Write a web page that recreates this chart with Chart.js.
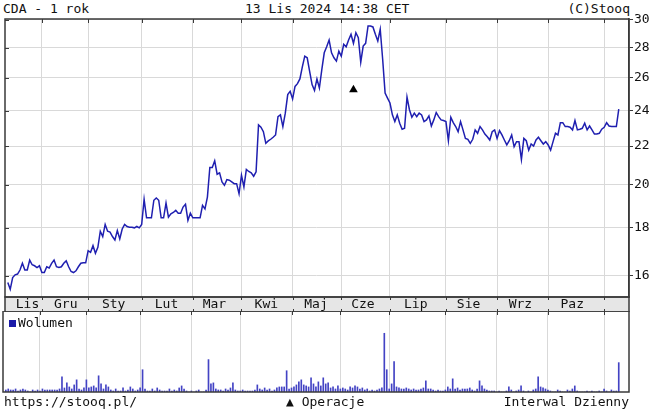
<!DOCTYPE html>
<html lang="pl">
<head>
<meta charset="UTF-8">
<title>CDA - 1 rok</title>
<script src="https://cdn.jsdelivr.net/npm/chart.js"></script>
<style>
  body { margin: 0; background: #fff; }
  #wrap { position: relative; width: 650px; height: 411px; font: 13px "DejaVu Sans Mono", monospace; color: #111; }
  .t { position: absolute; white-space: pre; line-height: 15px; }
  canvas { position: absolute; left: 0; }
</style>
</head>
<body>
<div id="wrap">
  <div class="t" style="left:3px;top:1px">CDA - 1 rok</div>
  <div class="t" style="left:245px;top:1px">13 Lis 2024 14:38 CET</div>
  <div class="t" style="right:20px;top:1px">(C)Stooq</div>
  <canvas id="price" width="650" height="312" style="top:0"></canvas>
  <canvas id="vol" width="650" height="82" style="top:311px"></canvas>
  <div class="t" style="left:9px;top:315px"><span style="display:inline-block;width:7px;height:7px;background:#1a1aa8;margin-right:2px"></span>Wolumen</div>
  <div class="t" style="left:4px;top:394px">https://stooq.pl/</div>
  <div class="t" style="left:286px;top:394px">▲ Operacje</div>
  <div class="t" style="right:21px;top:394px">Interwal Dzienny</div>
</div>
<script>
// kursy zamkniecia, sesja po sesji (13.11.2023 - 13.11.2024)
const closes = [
  15.74, 15.48, 15.93, 16.04, 16.07, 16.23, 16.50, 16.23, 16.23, 16.63,
  16.44, 16.40, 16.33, 16.40, 16.13, 16.13, 16.36, 16.31, 16.50, 16.63,
  16.36, 16.33, 16.36, 16.50, 16.60, 16.36, 16.17, 16.13, 16.20, 16.36,
  16.50, 16.52, 16.52, 17.02, 16.95, 17.23, 16.91, 17.16, 17.85, 17.62,
  18.15, 17.85, 17.81, 17.62, 17.47, 17.88, 17.52, 17.95, 18.15, 18.06,
  18.03, 18.03, 18.00, 18.06, 18.00, 18.15, 19.30, 18.45, 18.45, 18.45,
  19.26, 19.37, 19.26, 18.45, 18.45, 19.13, 18.48, 18.63, 18.69, 18.79,
  18.66, 18.66, 18.94, 19.07, 18.33, 18.66, 18.45, 18.45, 18.45, 18.45,
  19.02, 18.86, 19.41, 20.87, 20.87, 21.22, 20.53, 20.60, 20.15, 19.98,
  20.26, 20.23, 20.15, 20.06, 20.06, 19.57, 20.48, 19.90, 20.77, 20.67,
  20.60, 20.43, 20.65, 23.17, 23.04, 22.79, 22.15, 22.28, 22.37, 22.48,
  22.61, 23.65, 23.75, 23.08, 23.85, 24.96, 25.16, 24.69, 25.47, 25.64,
  25.94, 26.72, 27.43, 27.32, 26.43, 25.58, 25.22, 25.94, 25.37, 26.54,
  27.66, 28.07, 28.54, 27.66, 27.32, 27.10, 27.77, 27.43, 28.24, 28.07,
  28.54, 28.94, 28.31, 29.06, 28.71, 27.03, 28.12, 28.31, 29.54, 29.54,
  29.47, 28.94, 28.47, 29.30, 27.22, 25.06, 24.75, 24.45, 23.75, 23.36,
  23.75, 23.27, 22.93, 22.98, 24.81, 24.05, 23.61, 23.85, 23.65, 23.85,
  23.75, 23.36, 23.46, 23.69, 23.11, 23.46, 23.89, 23.65, 23.46, 23.42,
  23.36, 22.29, 23.61, 23.30, 23.08, 22.79, 23.36, 22.89, 22.42, 22.37,
  22.15, 22.37, 22.89, 22.70, 23.08, 22.89, 22.66, 22.51, 22.33, 22.79,
  22.89, 22.42, 22.85, 22.61, 22.33, 22.06, 22.29, 22.61, 21.97, 22.24,
  22.24, 21.29, 22.42, 22.29, 21.78, 22.11, 22.00, 22.33, 22.48, 22.29,
  22.11, 22.24, 22.06, 21.78, 22.24, 22.70, 22.61, 23.30, 23.30, 23.08,
  23.08, 23.04, 22.89, 23.42, 22.89, 22.93, 22.98, 23.27, 22.89, 23.11,
  22.89, 22.66, 22.66, 22.70, 22.93, 23.04, 23.30, 23.11, 23.08, 23.08,
  23.08, 24.09
];

// wolumen (tys. szt.)
const volumes = [
  2, 3, 2, 2, 3, 1, 2, 3, 2, 1, 0, 2, 1, 2,
  1, 3, 2, 2, 2, 2, 2, 2, 3, 15, 4, 9, 5, 3, 7, 12, 3, 2, 4,
  12, 4, 5, 6, 4, 16, 8, 3, 7, 5, 2, 1, 3, 1, 1, 4, 1, 2, 5, 3, 1, 2,
  4, 22, 3, 1, 1, 3, 1, 4, 2, 1, 1, 1, 3, 1, 2, 1, 4, 6, 3, 1, 0,
  1, 0, 1, 2, 0, 0, 2, 32, 8, 9, 3, 2, 2, 1, 3, 2, 4, 9, 2, 1,
  1, 2, 1, 1, 1, 1, 2, 7, 3, 2, 4, 2, 3, 1, 2, 4, 5, 5, 5, 21, 3,
  4, 5, 7, 10, 12, 7, 6, 5, 14, 8, 5, 10, 6, 14, 8, 9, 4, 5, 3, 6,
  3, 4, 3, 2, 5, 4, 6, 5, 3, 4, 2, 3, 1, 2, 1, 2, 3, 4, 58, 22,
  3, 8, 30, 5, 4, 3, 3, 4, 3, 2, 3, 2, 2, 3, 4, 11, 3, 3, 2, 1, 2, 1, 1,
  2, 5, 3, 13, 3, 4, 2, 3, 3, 3, 4, 2, 1, 3, 11, 6, 3, 2, 1, 1, 1,
  0, 1, 0, 0, 1, 5, 2, 0, 1, 2, 6, 1, 0, 1, 0, 2, 3, 15, 5, 4, 3,
  2, 1, 0, 0, 2, 1, 0, 0, 2, 1, 3, 6, 1, 0, 0, 0, 1, 0, 1, 0, 0, 1, 0,
  3, 1, 0, 2, 1, 1, 29
];

// miesiace: pierwsza sesja miesiaca (linie siatki) i polozenie etykiet
const monthStarts = [14, 33, 55, 76, 96, 117, 137, 157, 180, 201, 222, 245];
const monthNames = ['Lis', 'Gru', 'Sty', 'Lut', 'Mar', 'Kwi', 'Maj', 'Cze', 'Lip', 'Sie', 'Wrz', 'Paz'];
const monthLabelAt = [8.1, 23.8, 43.5, 65.2, 84.9, 106.2, 126.6, 145.9, 167.6, 189.3, 210.6, 231.9];

const priceTicks = [16, 18, 20, 22, 24, 26, 28, 30];
const operationIdx = [142];
const operationLevel = [25.26];

const X_MIN = -1.15, X_MAX = 255.2;
const FONT = { family: 'DejaVu Sans Mono', size: 13 };
const GRID = '#d9d9d9';
const DARK = '#3a3a3a';

// ramka, pasek miesiecy i drobne kreski
const frame = {
  id: 'frame',
  beforeDraw(chart, args, opts) {
    if (!opts.strip) return;
    const { ctx, chartArea: a } = chart;
    ctx.save();
    ctx.fillStyle = '#e6e6e6';
    ctx.fillRect(a.left, a.bottom, a.right - a.left, opts.strip);
    ctx.restore();
  },
  afterDraw(chart, args, opts) {
    const { ctx, chartArea: a } = chart;
    const xs = chart.scales.x;
    ctx.save();
    ctx.strokeStyle = DARK;
    ctx.lineWidth = 1;
    ctx.beginPath();
    monthStarts.forEach(v => {
      const px = Math.round(xs.getPixelForValue(v)) + 0.5;
      ctx.moveTo(px, a.top); ctx.lineTo(px, a.top + 4);
      if (opts.strip) {
        ctx.moveTo(px, a.bottom); ctx.lineTo(px, a.bottom + 3);
        ctx.moveTo(px, a.bottom + opts.strip); ctx.lineTo(px, a.bottom + opts.strip - 3);
      }
    });
    if (chart.scales.y && chart.scales.y.options.display) {
      priceTicks.forEach(v => {
        const py = Math.round(chart.scales.y.getPixelForValue(v)) + 0.5;
        ctx.moveTo(a.left, py); ctx.lineTo(a.left + 4, py);
      });
    }
    ctx.stroke();
    ctx.lineWidth = 1.5;
    ctx.strokeRect(a.left, a.top, a.right - a.left, a.bottom - a.top);
    if (opts.strip) {
      ctx.strokeRect(a.left, a.bottom, a.right - a.left, opts.strip);
    }
    ctx.restore();
  }
};

const idx = closes.map((_, i) => i);

new Chart(document.getElementById('price'), {
  type: 'line',
  data: {
    datasets: [{
      data: idx.map(i => ({ x: i, y: closes[i] })),
      borderColor: '#1f1fb0',
      borderWidth: 1.5,
      pointRadius: 0,
      tension: 0
    }, {
      data: operationIdx.map((v, k) => ({ x: v, y: operationLevel[k] })),
      showLine: false,
      pointStyle: 'triangle',
      pointRadius: 5,
      backgroundColor: '#000',
      borderWidth: 0
    }]
  },
  options: {
    responsive: false,
    animation: false,
    devicePixelRatio: 1,
    layout: { padding: { left: 3, top: 19, right: 0, bottom: 0 } },
    plugins: { legend: { display: false }, tooltip: { enabled: false }, frame: { strip: 15 } },
    scales: {
      x: {
        type: 'linear', position: 'bottom', min: X_MIN, max: X_MAX,
        afterBuildTicks: s => { s.ticks = monthStarts.map(v => ({ value: v })); },
        afterFit: s => { s.height = 0; },
        grid: { color: GRID, drawTicks: false },
        border: { display: false },
        ticks: { display: false }
      },
      xm: {
        type: 'linear', position: 'bottom', min: X_MIN, max: X_MAX,
        afterBuildTicks: s => { s.ticks = monthLabelAt.map(v => ({ value: v })); },
        afterFit: s => { s.height = 15; },
        grid: { display: false, drawTicks: false },
        border: { display: false },
        ticks: {
          font: FONT, color: '#111', padding: 0, maxRotation: 0, autoSkip: false,
          callback: (v, i) => monthNames[i]
        }
      },
      y: {
        type: 'logarithmic', position: 'right', min: 15.19, max: 30.05,
        afterBuildTicks: s => { s.ticks = priceTicks.map(v => ({ value: v })); },
        afterFit: s => { s.width = 21; },
        grid: { color: GRID, tickColor: DARK, tickLength: 4 },
        border: { color: DARK, width: 1.5 },
        ticks: { font: FONT, color: '#111', padding: 1, autoSkip: false, callback: v => String(v) }
      }
    }
  },
  plugins: [frame]
});

new Chart(document.getElementById('vol'), {
  type: 'bar',
  data: {
    datasets: [{
      data: idx.map(i => ({ x: i, y: volumes[i] })),
      backgroundColor: '#4343c4',
      barThickness: 1
    }]
  },
  options: {
    responsive: false,
    animation: false,
    devicePixelRatio: 1,
    layout: { padding: { left: 3, top: 0, right: 21, bottom: 1 } },
    plugins: { legend: { display: false }, tooltip: { enabled: false }, frame: { strip: 0 } },
    scales: {
      x: {
        type: 'linear', min: X_MIN, max: X_MAX, offset: false,
        afterBuildTicks: s => { s.ticks = monthStarts.map(v => ({ value: v })); },
        afterFit: s => { s.height = 0; },
        grid: { color: GRID, drawTicks: false, offset: false },
        border: { display: false },
        ticks: { display: false }
      },
      y: { display: false, min: 0, max: 80 }
    }
  },
  plugins: [frame]
});
</script>
</body>
</html>
